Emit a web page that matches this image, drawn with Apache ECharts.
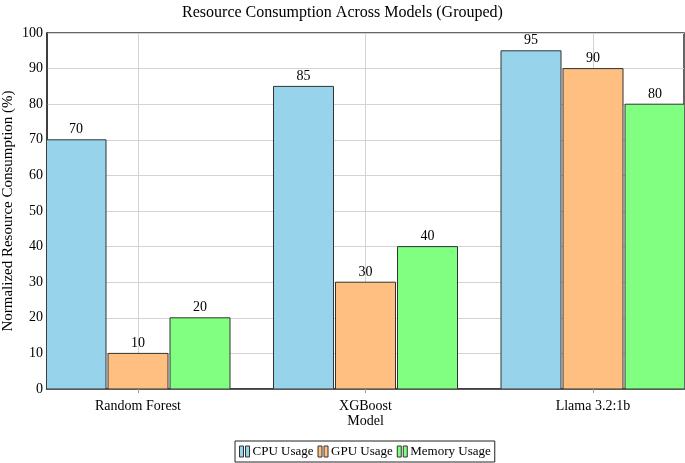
<!DOCTYPE html>
<html>
<head>
<meta charset="utf-8">
<script src="https://cdn.jsdelivr.net/npm/echarts@6/dist/echarts.min.js"></script>
<style>html,body{margin:0;padding:0;background:#fff}#c{width:685px;height:463px}</style>
</head>
<body>
<div id="c"></div>
<script>
const categories = ['Random Forest', 'XGBoost', 'Llama 3.2:1b'];
const seriesNames = ['CPU Usage', 'GPU Usage', 'Memory Usage'];
const cpuUsage = [70, 85, 95];
const gpuUsage = [10, 30, 90];
const memoryUsage = [20, 40, 80];
const yTicks = [0, 10, 20, 30, 40, 50, 60, 70, 80, 90, 100];

const colors = ['#97D4EC', '#FFBF80', '#80FF80'];
const FONT = '"Liberation Serif", "DejaVu Serif", serif';
const values = [cpuUsage, gpuUsage, memoryUsage];
const catIdx = categories.map((_, i) => i);
const BAR_W = 60;
const offsets = [-62, 0, 62];

const chart = echarts.init(document.getElementById('c'), null, {renderer: 'canvas'});
const series = seriesNames.map((name, s) => ({
  name: name,
  type: 'custom',
  clip: true,
  encode: {x: 0, y: 1},
  data: values[s].map((v, i) => [catIdx[i], v]),
  itemStyle: {color: colors[s], borderColor: '#333', borderWidth: 1},
  renderItem: function (params, api) {
    const x = api.value(0), y = api.value(1);
    const base = api.coord([x, 0]);
    const top = api.coord([x, y]);
    const cx = base[0] + offsets[s];
    return {
      type: 'group',
      children: [
        {type: 'rect', shape: {x: cx - BAR_W / 2, y: top[1], width: BAR_W, height: base[1] - top[1]},
         style: {fill: colors[s], stroke: '#333', lineWidth: 1}},
        {type: 'text', style: {text: String(y), x: cx, y: top[1] - 3, align: 'center', verticalAlign: 'bottom',
          fill: '#000', font: '14px ' + FONT}}
      ]
    };
  }
}));

chart.setOption({
  animation: false,
  backgroundColor: '#fff',
  title: {
    text: 'Resource Consumption Across Models (Grouped)',
    left: 'center', top: 0,
    textStyle: {fontFamily: FONT, fontSize: 16, fontWeight: 'normal', color: '#000'}
  },
  legend: {
    bottom: 1, left: 235,
    data: seriesNames,
    icon: 'path://M0,0h4v11h-4z M6,0h4v11h-4z',
    itemWidth: 10, itemHeight: 11, itemGap: 4,
    itemStyle: {borderColor: '#333', borderWidth: 1},
    borderColor: '#222', borderWidth: 1, padding: [4, 4],
    textStyle: {fontFamily: FONT, fontSize: 13, color: '#000', padding: [0, 0, 0, -2]}
  },
  grid: {left: 47, right: 1, top: 33, bottom: 74, show: true, borderColor: '#333', borderWidth: 1.5,
         containLabel: false, outerBoundsMode: 'none'},
  xAxis: {
    type: 'value', min: -0.4, max: 2.4,
    name: 'Model', nameLocation: 'middle', nameGap: 25, nameMoveOverlap: false,
    nameTextStyle: {fontFamily: FONT, fontSize: 14, color: '#000'},
    axisLine: {show: true, onZero: false, lineStyle: {color: '#333', width: 1.5}},
    axisTick: {show: true, length: 4, customValues: catIdx, lineStyle: {color: '#999'}},
    axisLabel: {customValues: catIdx, formatter: v => categories[Math.round(v)] || '', fontFamily: FONT, fontSize: 14, color: '#000', margin: 10},
    splitLine: {show: true, lineStyle: {color: '#d3d3d3', width: 1}}
  },
  yAxis: {
    type: 'value', min: yTicks[0], max: yTicks[yTicks.length - 1], interval: 10,
    name: 'Normalized Resource Consumption (%)', nameLocation: 'middle', nameGap: 31, nameMoveOverlap: false,
    nameTextStyle: {fontFamily: FONT, fontSize: 15, color: '#000'},
    axisLine: {show: true, onZero: false, lineStyle: {color: '#333', width: 1.5}},
    axisTick: {show: false},
    axisLabel: {fontFamily: FONT, fontSize: 14, color: '#000', margin: 4},
    splitLine: {show: true, lineStyle: {color: '#d3d3d3', width: 1}}
  },
  series: series
});
</script>
</body>
</html>
